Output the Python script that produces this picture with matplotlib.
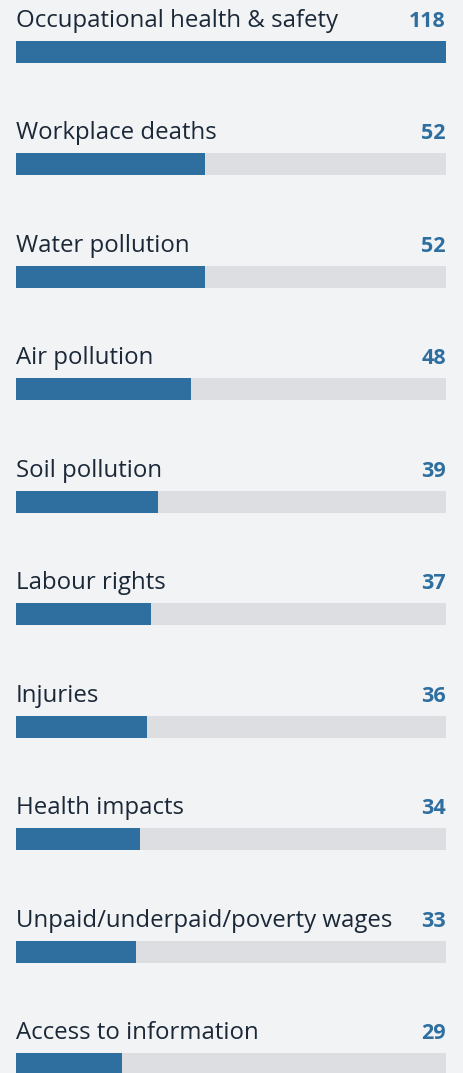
import matplotlib
matplotlib.use("Agg")
import matplotlib.pyplot as plt

categories = ["Occupational health & safety", "Workplace deaths", "Water pollution",
              "Air pollution", "Soil pollution", "Labour rights", "Injuries",
              "Health impacts", "Unpaid/underpaid/poverty wages", "Access to information"]
counts = [118, 52, 52, 48, 39, 37, 36, 34, 33, 29]
max_count = 118

bg = "#f2f3f5"
track = "#dcdee2"
bar_color = "#2e6fa0"
text_color = "#1b2838"

W, H = 463, 1073
fig = plt.figure(figsize=(W / 100, H / 100), dpi=100, facecolor=bg)
ax = fig.add_axes([16 / W, 0, 430 / W, 1])
ax.set_facecolor(bg)

row = 112.45
ax.set_xlim(0, max_count)
ax.set_ylim((H - 52) / row, -52 / row)
bar_h = 22 / row
ax.axis("off")

ys = list(range(len(categories)))
ax.barh(ys, [max_count] * len(ys), height=bar_h, color=track, left=0)
ax.barh(ys, counts, height=bar_h, color=bar_color, left=0)

for y, cat, c in zip(ys, categories, counts):
    ax.text(0, y - 25 / row, cat, ha="left", va="baseline", fontsize=17.3,
            family="Open Sans", color=text_color)
    ax.text(max_count, y - 25 / row, str(c), ha="right", va="baseline", fontsize=15.5,
            family="Open Sans", fontweight="bold", color=bar_color)

fig.savefig("out.png", dpi=100, facecolor=bg)
